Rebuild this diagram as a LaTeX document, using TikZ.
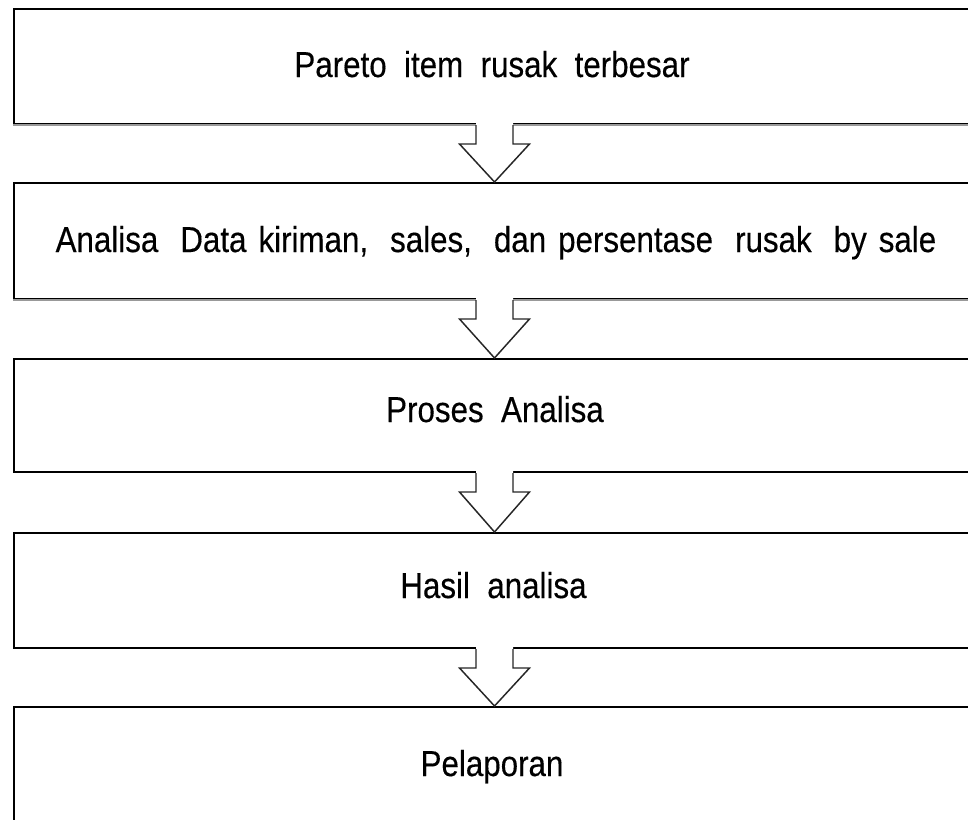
\documentclass[tikz,border=0pt]{standalone}
\usepackage{fontspec}
\setmainfont{Liberation Sans}[FakeStretch=0.87, FakeBold=0.3]
\usetikzlibrary{calc}

% word gaps for the long second line
\newcommand\gapone{\hspace{9pt}}
\newcommand\gaptwo{\hspace{16.5pt}}

\tikzset{
  stepbox/.style={draw=black, line width=1.5pt, fill=white, inner sep=0pt,
    minimum width=720.75pt, minimum height=#1},
  stepbox/.default=86.25pt,
  lbl/.style={anchor=base, inner sep=0pt, font=\fontsize{27}{32}\selectfont},
  arrowline/.style={draw=black!85, line width=1.1pt, line join=miter},
}

% hollow block arrow from the bottom of one box to the top of the next
\newcommand\flowarrow[2]{%
  \fill[white] ($(#1.south)+(-18.5,-2)$) -- ($(#1.south)+(-18.5,19)$)
    -- ($(#1.south)+(-35,19)$) -- (#2.north) -- ($(#1.south)+(35,19)$)
    -- ($(#1.south)+(18.5,19)$) -- ($(#1.south)+(18.5,-2)$) -- cycle;
  \draw[arrowline] ($(#1.south)+(-18.5,0)$) -- ($(#1.south)+(-18.5,19)$)
    -- ($(#1.south)+(-35,19)$) -- (#2.north) -- ($(#1.south)+(35,19)$)
    -- ($(#1.south)+(18.5,19)$) -- ($(#1.south)+(18.5,0)$);
}

\begin{document}
\begin{tikzpicture}[x=0.75pt, y=-0.75pt]
  \useasboundingbox (0,0) rectangle (968,819);
  \begin{scope}
    \clip (0,0) rectangle (968,819);
    \fill[white] (0,0) rectangle (968,819);

    \node[stepbox=86.25pt] (b1) at (494.5,66.5) {};
    \node[stepbox=87pt]    (b2) at (494.5,241) {};
    \node[stepbox=84.75pt] (b3) at (494.5,415.5) {};
    \node[stepbox=86.25pt] (b4) at (494.5,590.5) {};
    \node[stepbox=86.25pt] (b5) at (494.5,764.5) {};

    % softer grey lower edges of the first two boxes
    \draw[gray!80, line width=1.5pt] (b1.south west) -- (b1.south east);
    \draw[gray!80, line width=1.5pt] (b2.south west) -- (b2.south east);

    \flowarrow{b1}{b2}
    \flowarrow{b2}{b3}
    \flowarrow{b3}{b4}
    \flowarrow{b4}{b5}

    \node[lbl] (t1) at (492,77)  {Pareto~ item~ rusak~ terbesar};
    \node[lbl] (t2) at (496,252) {Analisa\gaptwo Data\gapone kiriman,\gaptwo sales,\gaptwo dan\gapone persentase\gaptwo rusak\gaptwo by\gapone sale};
    \node[lbl] (t3) at (495,422) {Proses~ Analisa};
    \node[lbl] (t4) at (493.5,598) {Hasil~ analisa};
    \node[lbl] (t5) at (492,776) {Pelaporan};
  \end{scope}
\end{tikzpicture}
\end{document}
